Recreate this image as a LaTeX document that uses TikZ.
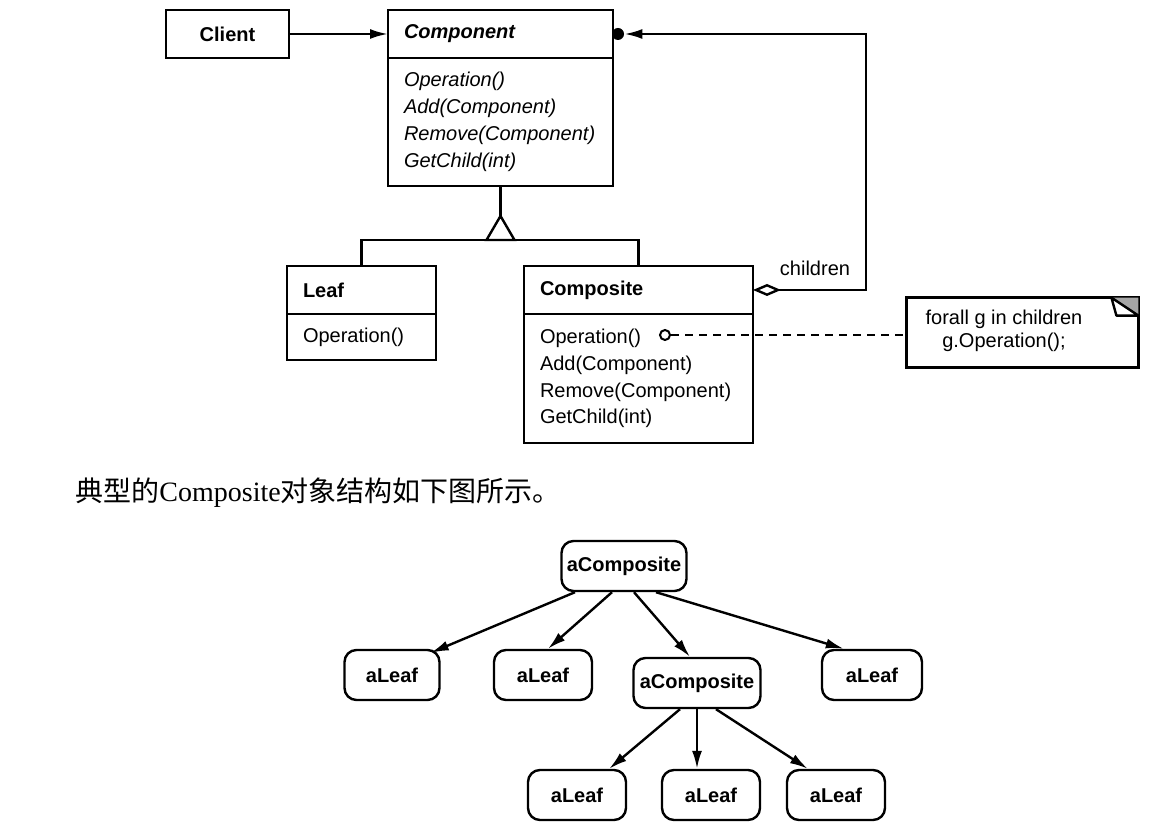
\documentclass[tikz,border=0pt]{standalone}
\usepackage{fontspec}
\setmainfont{Liberation Sans}
\newfontfamily\cjkfont{Noto Sans CJK SC}
\newfontfamily\romanfont{Liberation Serif}
\usetikzlibrary{positioning,arrows.meta}

\tikzset{
  link/.style={line width=1.2pt},
  umlbox/.style={draw, line width=1.2pt, outer sep=0pt, inner xsep=8pt, inner ysep=0pt, align=left,
    font=\fontsize{10}{13.4}\selectfont},
  umlhead/.style={umlbox, minimum height=24pt, font=\bfseries\fontsize{10}{12}\selectfont},
  objbox/.style={draw, line width=1.2pt, rounded corners=6pt, inner sep=0pt, minimum height=25pt,
    font=\bfseries\fontsize{10}{12}\selectfont},
  navarrow/.style={link, -{Latex[length=9pt,width=5pt]}},
}

\begin{document}
\begin{tikzpicture}[x=0.5pt,y=-0.5pt]
				\useasboundingbox (0,0) rectangle (1157,833);
				
				% class diagram
				\node[umlhead, minimum width=61.5pt, align=center] (client) at (227.5,34) {Client};
				\node[umlhead, text width=96.5pt] (comphead) at (500.5,34) {\itshape Component};
				\node[umlbox, text width=96.5pt, minimum height=64pt, below=0pt of comphead,
				      font=\itshape\fontsize{10}{13.4}\selectfont] (compbody)
				      {Operation()\\Add(Component)\\Remove(Component)\\GetChild(int)};
				\draw[navarrow] (client) -- (comphead);
				
				\node[umlhead, text width=58.5pt] (leafhead) at (361.5,290) {Leaf};
				\node[umlbox, text width=58.5pt, minimum height=23pt, below=0pt of leafhead] (leafbody) {Operation()};
				
				\node[umlhead, text width=98.5pt] (cmphead) at (638.5,290) {Composite};
				\node[umlbox, text width=98.5pt, minimum height=64.5pt, below=0pt of cmphead] (cmpbody)
				      {Operation()\\Add(Component)\\Remove(Component)\\GetChild(int)};
				
				\coordinate (apex) at (500.5,216);
				\coordinate (split) at (500.5,240);
				\draw[link] (compbody.south) -- (apex);
				\draw[link, line join=miter] (apex) -- ++(-14,24) -- ++(28,0) -- cycle;
				\draw[link] (leafhead.north) |- (split) -| (cmphead.north);
				
				\node[circle, fill, inner sep=0pt, minimum size=6pt] (aggdot) at (618,34) {};
				\coordinate (kidstop) at (866,34);
				\draw[link, {Diamond[open,length=14pt,width=6pt]}-{Latex[length=9pt,width=5pt]}]
				      (cmphead.east) -| (kidstop) -- (aggdot);
				\node[font=\fontsize{10}{12}\selectfont] (kidslabel) at (815,268) {children};
				
				% note
				\node[minimum width=115.5pt, minimum height=34.5pt, inner sep=0pt] (memo) at (1022.5,332.5) {};
				\draw[link] (memo.south west) rectangle (memo.north east);
				\fill[black!35] ([xshift=-13.5pt]memo.north east) -- (memo.north east) -- ([yshift=-9pt]memo.north east) -- cycle;
				\draw[link, line join=round] ([xshift=-13.5pt]memo.north east) -- ([xshift=-11pt,yshift=-9pt]memo.north east)
				      -- ([yshift=-9pt]memo.north east) -- cycle;
				\node[font=\fontsize{10}{11.5}\selectfont, align=center] (memotext) at (1004,331)
				      {forall g in children\\g.Operation();};
				\node[circle, draw, line width=1pt, inner sep=0pt, minimum size=5pt] (opdot) at (665,335) {};
				\draw[link, dash pattern=on 4pt off 3pt] (opdot) -- (opdot -| memo.west);
				
				% caption
				\node[anchor=west, inner sep=0pt, font=\fontsize{14}{16}\selectfont] (caption) at (75,493)
				      {{\cjkfont 典型的}{\romanfont Composite}{\cjkfont 对象结构如下图所示。}};
				
				% object tree
				\node[objbox, minimum width=62.5pt] (rootobj) at (624,566) {aComposite};
				\node[objbox, minimum width=47.5pt] (leafa) at (392,675) {aLeaf};
				\node[objbox, minimum width=49pt] (leafb) at (543,675) {aLeaf};
				\node[objbox, minimum width=63.5pt] (subobj) at (697,683) {aComposite};
				\node[objbox, minimum width=50pt] (leafc) at (872,675) {aLeaf};
				\node[objbox, minimum width=49pt] (leafd) at (577,795) {aLeaf};
				\node[objbox, minimum width=49pt] (leafe) at (711,795) {aLeaf};
				\node[objbox, minimum width=49pt] (leaff) at (836,795) {aLeaf};
				
				\draw[navarrow] ([xshift=-24.5pt]rootobj.south) -- ([xshift=-5pt,yshift=-2pt]leafa.north east);
				\draw[navarrow] ([xshift=-6pt]rootobj.south) -- ([xshift=2.5pt]leafb.north);
				\draw[navarrow] ([xshift=5pt]rootobj.south) -- ([xshift=-3.5pt]subobj.north);
				\draw[navarrow] ([xshift=16pt]rootobj.south) -- ([xshift=11.5pt]leafc.north west);
				\draw[navarrow] ([xshift=-8.5pt]subobj.south) -- ([xshift=-9pt]leafd.north east);
				\draw[navarrow] (subobj.south) -- (subobj.south |- leafe.north);
				\draw[navarrow] ([xshift=9.5pt]subobj.south) -- ([xshift=11pt]leaff.north west);
			\end{tikzpicture}
\end{document}
